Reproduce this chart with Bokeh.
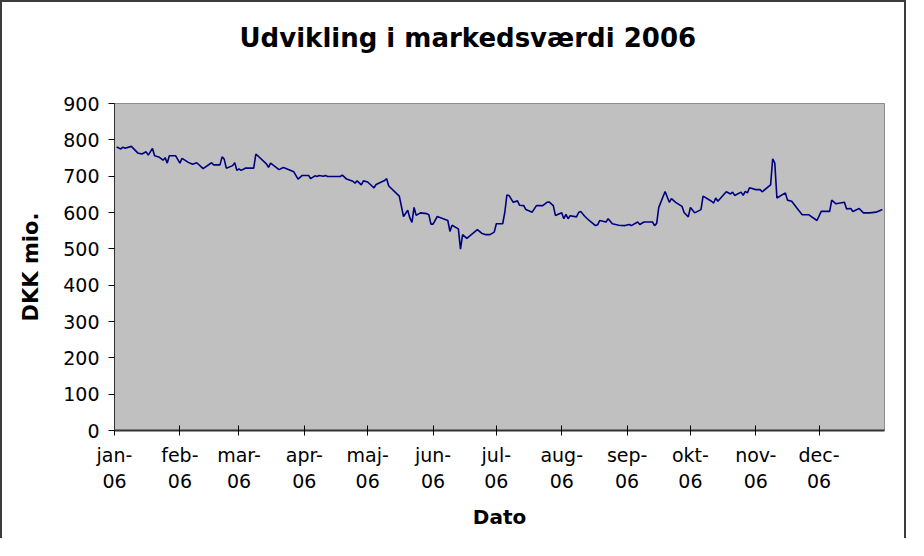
from datetime import datetime
from bokeh.plotting import figure
from bokeh.models import Range1d, FixedTicker, Title
from bokeh.embed import file_html
from bokeh.resources import INLINE

# ---- data ----
dates = [
    "2006-01-02", "2006-01-04", "2006-01-05", "2006-01-06", "2006-01-09", "2006-01-12",
    "2006-01-14", "2006-01-16", "2006-01-17", "2006-01-19", "2006-01-20", "2006-01-22",
    "2006-01-24", "2006-01-25", "2006-01-26", "2006-01-27", "2006-01-30", "2006-02-01",
    "2006-02-02", "2006-02-05", "2006-02-07", "2006-02-09", "2006-02-12", "2006-02-16",
    "2006-02-17", "2006-02-20", "2006-02-21", "2006-02-22", "2006-02-23", "2006-02-26",
    "2006-02-27", "2006-02-28", "2006-03-01", "2006-03-02", "2006-03-04", "2006-03-08",
    "2006-03-09", "2006-03-14", "2006-03-15", "2006-03-16", "2006-03-20", "2006-03-22",
    "2006-03-23", "2006-03-27", "2006-03-29", "2006-03-31", "2006-04-01", "2006-04-03",
    "2006-04-04", "2006-04-06", "2006-04-07", "2006-04-08", "2006-04-10", "2006-04-11",
    "2006-04-12", "2006-04-18", "2006-04-19", "2006-04-21", "2006-04-24", "2006-04-25",
    "2006-04-26", "2006-04-28", "2006-04-29", "2006-05-01", "2006-05-04", "2006-05-05",
    "2006-05-09", "2006-05-10", "2006-05-11", "2006-05-16", "2006-05-18", "2006-05-20",
    "2006-05-21", "2006-05-22", "2006-05-23", "2006-05-24", "2006-05-26", "2006-05-29",
    "2006-05-30", "2006-05-31", "2006-06-01", "2006-06-03", "2006-06-08", "2006-06-09",
    "2006-06-10", "2006-06-13", "2006-06-14", "2006-06-15", "2006-06-17", "2006-06-20",
    "2006-06-22", "2006-06-24", "2006-06-26", "2006-06-28", "2006-06-30", "2006-07-01",
    "2006-07-04", "2006-07-05", "2006-07-06", "2006-07-07", "2006-07-09", "2006-07-11",
    "2006-07-12", "2006-07-14", "2006-07-15", "2006-07-18", "2006-07-20", "2006-07-23",
    "2006-07-25", "2006-07-26", "2006-07-28", "2006-07-29", "2006-08-01", "2006-08-02",
    "2006-08-03", "2006-08-04", "2006-08-05", "2006-08-08", "2006-08-09", "2006-08-10",
    "2006-08-12", "2006-08-14", "2006-08-17", "2006-08-18", "2006-08-19", "2006-08-22",
    "2006-08-23", "2006-08-25", "2006-08-28", "2006-08-31", "2006-09-02", "2006-09-03",
    "2006-09-06", "2006-09-07", "2006-09-09", "2006-09-13", "2006-09-14", "2006-09-15",
    "2006-09-16", "2006-09-19", "2006-09-21", "2006-09-22", "2006-09-24", "2006-09-27",
    "2006-09-28", "2006-09-30", "2006-10-01", "2006-10-03", "2006-10-06", "2006-10-07",
    "2006-10-11", "2006-10-12", "2006-10-13", "2006-10-14", "2006-10-18", "2006-10-20",
    "2006-10-21", "2006-10-22", "2006-10-25", "2006-10-26", "2006-10-27", "2006-10-28",
    "2006-10-29", "2006-11-01", "2006-11-03", "2006-11-04", "2006-11-08", "2006-11-09",
    "2006-11-10", "2006-11-11", "2006-11-15", "2006-11-16", "2006-11-18", "2006-11-21",
    "2006-11-23", "2006-11-26", "2006-11-30", "2006-12-02", "2006-12-06", "2006-12-07",
    "2006-12-09", "2006-12-13", "2006-12-14", "2006-12-16", "2006-12-17", "2006-12-20",
    "2006-12-22", "2006-12-25", "2006-12-28", "2006-12-31",
]
values = [
    780, 775, 780, 777, 782, 764,
    761, 767, 758, 776, 756, 753,
    744, 751, 736, 756, 756, 736,
    749, 738, 733, 737, 721, 737,
    731, 731, 753, 747, 722, 729,
    737, 716, 720, 716, 722, 722,
    761, 734, 724, 736, 718, 724,
    722, 712, 692, 702, 702, 702,
    693, 701, 699, 702, 700, 702,
    699, 699, 703, 692, 686, 681,
    687, 676, 687, 684, 668, 677,
    688, 693, 673, 645, 589, 606,
    585, 573, 614, 592, 599, 597,
    594, 568, 568, 589, 578, 548,
    565, 555, 499, 539, 529, 543,
    553, 543, 539, 539, 546, 569,
    569, 600, 648, 647, 628, 632,
    620, 619, 608, 601, 619, 619,
    628, 629, 619, 592, 599, 583,
    595, 583, 591, 588, 600, 603,
    589, 578, 564, 566, 578, 574,
    583, 569, 565, 564, 567, 564,
    574, 567, 574, 574, 564, 570,
    614, 658, 628, 638, 628, 617,
    600, 588, 614, 599, 608, 645,
    631, 626, 640, 631, 657, 651,
    656, 647, 656, 647, 658, 654,
    668, 663, 663, 657, 676, 748,
    736, 640, 654, 634, 631, 608,
    594, 594, 578, 603, 603, 634,
    624, 628, 610, 611, 603, 611,
    599, 599, 601, 608,
]
month_names = ["jan", "feb", "mar", "apr", "maj", "jun",
               "jul", "aug", "sep", "okt", "nov", "dec"]
year_suffix = "06"
y_ticks = [0, 100, 200, 300, 400, 500, 600, 700, 800, 900]

title_text = "Udvikling i markedsværdi 2006"
x_title = "Dato"
y_title = "DKK mio."

# ---- build ----
epoch = datetime(1970, 1, 1)
x = [datetime.fromisoformat(d) for d in dates]
month_starts = [datetime(2006, m, 1) for m in range(1, 13)]
tick_ms = [(d - epoch).total_seconds() * 1000.0 for d in month_starts]

FONT = "DejaVu Sans"

p = figure(
    width=906, height=538,
    x_axis_type="datetime",
    x_range=Range1d(datetime(2006, 1, 1), datetime(2007, 1, 1)),
    y_range=Range1d(0, 900),
    output_backend="svg", toolbar_location=None,
    min_border_left=112, min_border_right=24,
    min_border_top=101, min_border_bottom=110,
    background_fill_color="#c0c0c0",
    border_fill_color="white",
)
p.styles = {
    "border-top": "2px solid #3c3c3c",
    "border-left": "2px solid #3c3c3c",
    "border-right": "2px solid #3c3c3c",
}

p.line(x, values, line_color="#000080", line_width=1.6)

p.xgrid.visible = False
p.ygrid.visible = False
p.outline_line_color = "#8c8c8c"
p.outline_line_width = 1

# spacer between frame and title, then the title itself (stacked outward)
p.add_layout(Title(text=" ", text_font_size="10px", standoff=33), "above")
p.add_layout(Title(text=title_text, align="left", offset=125,
                   text_font=FONT, text_font_size="26px",
                   text_font_style="bold", text_color="black",
                   standoff=10), "above")

# x axis
xa = p.xaxis[0]
xa.ticker = FixedTicker(ticks=tick_ms)
xa.major_label_overrides = {t: f"{m}-\n{year_suffix}" for t, m in zip(tick_ms, month_names)}
xa.major_label_text_font = FONT
xa.major_label_text_font_size = "19px"
xa.major_label_text_color = "black"
xa.major_label_text_line_height = 1.2
xa.major_label_standoff = 8
xa.major_tick_in = 5
xa.major_tick_out = 5
xa.minor_tick_in = 0
xa.minor_tick_out = 0
xa.axis_line_color = "#333333"
xa.axis_line_width = 2
xa.major_tick_line_color = "black"
xa.axis_label = x_title
xa.axis_label_text_font = FONT
xa.axis_label_text_font_size = "20px"
xa.axis_label_text_font_style = "bold"
xa.axis_label_text_color = "black"
xa.axis_label_standoff = 10

# y axis
ya = p.yaxis[0]
ya.ticker = FixedTicker(ticks=y_ticks)
ya.major_label_text_font = FONT
ya.major_label_text_font_size = "19px"
ya.major_label_text_color = "black"
ya.major_label_standoff = 9
ya.major_tick_in = 0
ya.major_tick_out = 6
ya.minor_tick_in = 0
ya.minor_tick_out = 0
ya.axis_line_color = "#333333"
ya.axis_line_width = 1
ya.major_tick_line_color = "black"
ya.axis_label = y_title
ya.axis_label_text_font = FONT
ya.axis_label_text_font_size = "21px"
ya.axis_label_text_font_style = "bold"
ya.axis_label_text_color = "black"
ya.axis_label_standoff = 17

open("out.html", "w").write(file_html(p, INLINE))
